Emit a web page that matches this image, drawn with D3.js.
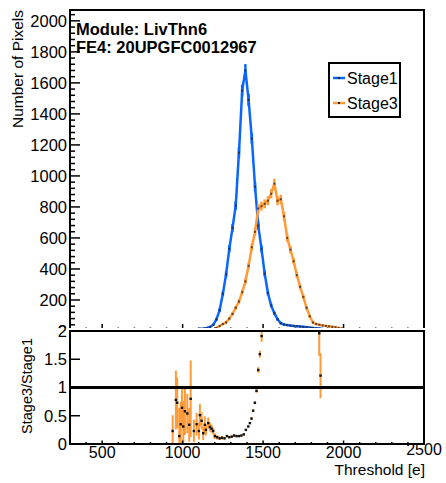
<!DOCTYPE html>
<meta charset="utf-8">
<style>
body { margin: 0; background: #fff; }
text { font-family: "Liberation Sans", Arial, sans-serif; fill: #000; }
</style>
<svg width="446" height="483"></svg>
<script src="https://cdn.jsdelivr.net/npm/d3@7"></script>
<script>
// histogram bins (20 e wide)
var binWidth = 20;
var stage1Start = 900;
var stage1 = [2, 3, 4, 5, 6, 7, 8, 9, 10, 12, 14, 16, 20, 26, 40, 75, 135, 240, 365, 530,
              665, 810, 1150, 1550, 1680, 1490, 1240, 930, 680, 530, 370, 245, 165, 115, 75,
              50, 42, 38, 35, 33, 31, 29, 27, 25, 22, 20, 18, 16, 13, 10, 6];
var stage3Start = 1140;
var stage3 = [3, 5, 10, 20, 32, 45, 55, 80, 110, 150, 190, 250, 320, 420, 540, 640, 790,
              805, 820, 840, 885, 950, 840, 850, 740, 600, 525, 450, 360, 285, 220, 150, 95,
              55, 45, 40, 36, 33, 30, 27, 24, 20, 16, 12, 6];

// ratio Stage3/Stage1
var ratioX = [938, 958, 966, 979, 988, 996, 1004, 1014, 1029, 1041, 1050, 1070, 1087, 1101, 1107,
              1118, 1128, 1138, 1145, 1159, 1170, 1180, 1190, 1200, 1215, 1230, 1245, 1260, 1275,
              1290, 1305, 1320, 1335, 1350, 1365, 1380, 1393, 1408, 1418, 1428, 1438, 1449, 1459,
              1470, 1480, 1491, 1849, 1857];
var ratioY = [0.23, 0.78, 0.73, 0.14, 0.35, 0.64, 0.31, 0.58, 0.54, 0.34, 0.80, 0.23, 0.35, 0.23, 0.51,
              0.41, 0.19, 0.34, 0.25, 0.37, 0.30, 0.27, 0.23, 0.14, 0.12, 0.10, 0.11, 0.10, 0.14,
              0.12, 0.13, 0.15, 0.14, 0.14, 0.15, 0.17, 0.25, 0.31, 0.37, 0.45, 0.59, 0.73, 0.94,
              1.31, 1.59, 1.91, 1.96, 1.21];
var ratioErr = [0.28, 0.52, 0.45, 0.5, 0.4, 0.35, 0.45, 0.42, 0.35, 0.3, 0.68, 0.2, 0.2, 0.15, 0.2,
                0.15, 0.12, 0.15, 0.1, 0.1, 0.08, 0.07, 0.06, 0.05, 0.04, 0.03, 0.03, 0.02, 0.02,
                0.02, 0.02, 0.02, 0.02, 0.015, 0.015, 0.015, 0.015, 0.015, 0.015, 0.02, 0.02, 0.02, 0.03,
                0.05, 0.06, 0.1, 0.4, 0.4];

var titleLines = ["Module: LivThn6", "FE4: 20UPGFC0012967"];
var seriesNames = ["Stage1", "Stage3"];
var seriesColors = ["#0b66ff", "#ff9a36"];

var svg = d3.select("svg");
var L = 70, R = 424, topT = 10, topB = 331, botT = 331, botB = 444;

var x = d3.scaleLinear().domain([300, 2500]).range([L, R]);
var yTop = d3.scaleLinear().domain([0, 2070]).range([topB, topT]);
var yBot = d3.scaleLinear().domain([0, 2]).range([botB, botT]);

function bins(start, vals) {
  return vals.map(function(v, i) { return {x: start + (i + 0.5) * binWidth, y: v}; });
}
var series = [bins(stage1Start, stage1), bins(stage3Start, stage3)];

// ---------- top pad ----------
var topPad = svg.append("g");
topPad.append("clipPath").attr("id", "clipTop").append("rect")
    .attr("x", L).attr("y", topT).attr("width", R - L).attr("height", topB - topT);

var plot = topPad.append("g").attr("clip-path", "url(#clipTop)");
series.forEach(function(s, k) {
  plot.selectAll(null).data(s).enter().append("line")
      .attr("x1", function(d) { return x(d.x); }).attr("x2", function(d) { return x(d.x); })
      .attr("y1", function(d) { return yTop(d.y - Math.sqrt(d.y)); })
      .attr("y2", function(d) { return yTop(d.y + Math.sqrt(d.y)); })
      .attr("stroke", seriesColors[k]).attr("stroke-width", 2.5);
  plot.append("path").datum(s)
      .attr("d", d3.line().x(function(d) { return x(d.x); }).y(function(d) { return yTop(d.y); }))
      .attr("fill", "none").attr("stroke", seriesColors[k]).attr("stroke-width", 2.5);
});
series.forEach(function(s) {
  plot.selectAll(null).data(s).enter().append("rect")
      .attr("x", function(d) { return x(d.x) - 1; }).attr("y", function(d) { return yTop(d.y) - 1; })
      .attr("width", 2).attr("height", 2).attr("fill", "#222").attr("opacity", 0.75);
});

// y axis ticks & labels (top)
var yMinor = d3.range(0, 2070, 40);
topPad.selectAll(null).data(yMinor).enter().append("line")
    .attr("x1", L).attr("x2", function(d) { return d % 200 === 0 ? L + 10 : L + 5; })
    .attr("y1", function(d) { return yTop(d); }).attr("y2", function(d) { return yTop(d); })
    .attr("stroke", "#000").attr("stroke-width", 1.5);
topPad.selectAll(null).data(d3.range(0, 2001, 200)).enter().append("text")
    .attr("x", L - 3).attr("y", function(d) { return yTop(d); }).attr("dy", "0.36em")
    .attr("text-anchor", "end").attr("font-size", 16.5).text(function(d) { return d; });

// x ticks (top, no labels)
topPad.selectAll(null).data(d3.range(300, 2501, 100)).enter().append("line")
    .attr("x1", function(d) { return x(d); }).attr("x2", function(d) { return x(d); })
    .attr("y1", topB).attr("y2", function(d) { return d % 500 === 0 ? topB - 7 : topB - 3.5; })
    .attr("stroke", "#000").attr("stroke-width", 1.5);

topPad.append("rect").attr("x", L).attr("y", topT).attr("width", R - L).attr("height", topB - topT)
    .attr("fill", "none").attr("stroke", "#000").attr("stroke-width", 2);

topPad.append("text").attr("transform", "translate(23," + topT + ") rotate(-90)")
    .attr("text-anchor", "end").attr("font-size", 15.5).text("Number of Pixels");

topPad.selectAll(null).data(titleLines).enter().append("text")
    .attr("x", 76).attr("y", function(d, i) { return 35 + i * 18; })
    .attr("font-size", 16.5).attr("font-weight", "bold").text(function(d) { return d; });

// legend
var leg = topPad.append("g");
leg.append("rect").attr("x", 329).attr("y", 63).attr("width", 71).attr("height", 54)
    .attr("fill", "#fff").attr("stroke", "#000").attr("stroke-width", 2);
seriesNames.forEach(function(n, k) {
  var ly = 78 + k * 25;
  leg.append("line").attr("x1", 333).attr("x2", 345).attr("y1", ly).attr("y2", ly)
      .attr("stroke", seriesColors[k]).attr("stroke-width", 2.5);
  leg.append("rect").attr("x", 338).attr("y", ly - 1).attr("width", 2).attr("height", 2).attr("fill", "#222");
  leg.append("text").attr("x", 347).attr("y", ly).attr("dy", "0.36em")
      .attr("font-size", 16).text(n);
});

// ---------- bottom pad ----------
var botPad = svg.append("g");
botPad.append("rect").attr("x", 0).attr("y", 328).attr("width", 446).attr("height", 155).attr("fill", "#fff");
botPad.append("clipPath").attr("id", "clipBot").append("rect")
    .attr("x", L).attr("y", botT).attr("width", R - L).attr("height", botB - botT);

var rat = ratioX.map(function(v, i) { return {x: v, y: ratioY[i], e: ratioErr[i]}; });
var rp = botPad.append("g").attr("clip-path", "url(#clipBot)");
rp.selectAll(null).data(rat).enter().append("line")
    .attr("x1", function(d) { return x(d.x); }).attr("x2", function(d) { return x(d.x); })
    .attr("y1", function(d) { return yBot(d.y - d.e); }).attr("y2", function(d) { return yBot(d.y + d.e); })
    .attr("stroke", seriesColors[1]).attr("stroke-width", 2);
rp.selectAll(null).data(rat).enter().append("rect")
    .attr("x", function(d) { return x(d.x) - 1.2; }).attr("y", function(d) { return yBot(d.y) - 1.2; })
    .attr("width", 2.4).attr("height", 2.4).attr("fill", "#111");

botPad.append("line").attr("x1", L).attr("x2", R).attr("y1", yBot(1)).attr("y2", yBot(1))
    .attr("stroke", "#000").attr("stroke-width", 3);

botPad.selectAll(null).data([0, 0.5, 1, 1.5, 2]).enter().append("line")
    .attr("x1", L).attr("x2", L + 10)
    .attr("y1", function(d) { return yBot(d); }).attr("y2", function(d) { return yBot(d); })
    .attr("stroke", "#000").attr("stroke-width", 1.5);
botPad.selectAll(null).data([0, 0.5, 1, 1.5, 2]).enter().append("text")
    .attr("x", L - 3).attr("y", function(d) { return yBot(d); }).attr("dy", "0.36em")
    .attr("text-anchor", "end").attr("font-size", 16.5).text(function(d) { return d; });

botPad.selectAll(null).data(d3.range(300, 2501, 100)).enter().append("line")
    .attr("x1", function(d) { return x(d); }).attr("x2", function(d) { return x(d); })
    .attr("y1", botB).attr("y2", function(d) { return d % 500 === 0 ? botB - 3.5 : botB - 2; })
    .attr("stroke", "#000").attr("stroke-width", 1.5);
botPad.selectAll(null).data(d3.range(500, 2501, 500)).enter().append("text")
    .attr("x", function(d) { return x(d); })
    .attr("y", function(d) { return d === 2500 ? 455 : 458; })
    .attr("text-anchor", "middle").attr("font-size", 16).text(function(d) { return d; });

botPad.append("rect").attr("x", L).attr("y", botT).attr("width", R - L).attr("height", botB - botT)
    .attr("fill", "none").attr("stroke", "#000").attr("stroke-width", 2);

botPad.append("text").attr("transform", "translate(32,338) rotate(-90)")
    .attr("text-anchor", "end").attr("font-size", 14.5).text("Stage3/Stage1");
botPad.append("text").attr("x", 425).attr("y", 475)
    .attr("text-anchor", "end").attr("font-size", 15.5).text("Threshold [e]");
</script>
